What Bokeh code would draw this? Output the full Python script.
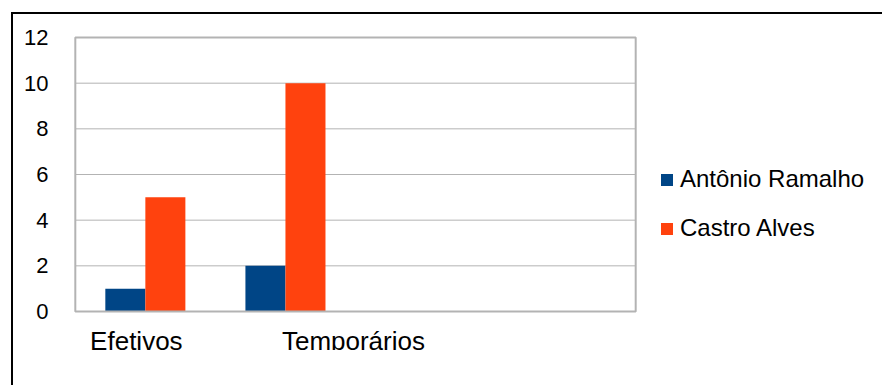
from bokeh.plotting import figure
from bokeh.models import FactorRange, Legend, LegendItem, Spacer, ColumnDataSource
from bokeh.layouts import column
from bokeh.transform import dodge
from bokeh.core.properties import value
from bokeh.embed import file_html
from bokeh.resources import INLINE

# Categories (two empty slots keep the right half of the plot area blank)
categories = ["Efetivos", "Temporários", " ", "  "]
antonio_ramalho = [1, 2]
castro_alves = [5, 10]
series_names = ["Antônio Ramalho", "Castro Alves"]
y_ticks = [0, 2, 4, 6, 8, 10, 12]

FONT = "Liberation Sans"
BLUE = "#004586"
ORANGE = "#ff420e"
GRID = "#b3b3b3"

n_cat = len(categories)
src = ColumnDataSource(dict(cat=categories[:2], a=antonio_ramalho, c=castro_alves))
# category labels sit just under the axis, nudged sideways in pixels
lbl = ColumnDataSource(dict(cat=categories[:2], y=[-0.63] * 2, dx=[-9, 68]))

p = figure(
    x_range=FactorRange(factors=categories, range_padding=0.02,
                        range_padding_units="absolute"),
    y_range=(-1.708, 12.088),
    frame_width=566, frame_height=315,
    output_backend="svg", toolbar_location=None,
    min_border_left=59, min_border_right=0,
    min_border_top=21, min_border_bottom=0,
    background_fill_color="white", border_fill_color="white",
)
p.outline_line_color = None
p.xaxis.visible = False
p.xgrid.grid_line_color = None
p.ygrid.grid_line_color = None

# horizontal gridlines across the plot area
p.segment(x0=[0] * (len(y_ticks) - 1), x1=[n_cat] * (len(y_ticks) - 1),
          y0=y_ticks[1:], y1=y_ticks[1:], line_color=GRID, line_width=1)

bw = 0.2857
r1 = p.vbar(x=dodge("cat", -bw / 2, range=p.x_range), top="a", width=bw,
            source=src, fill_color=BLUE, line_color=None)
r2 = p.vbar(x=dodge("cat", bw / 2, range=p.x_range), top="c", width=bw,
            source=src, fill_color=ORANGE, line_color=None)

# plot-area box (its bottom edge doubles as the category axis line)
p.quad(left=[0], right=[n_cat], bottom=[y_ticks[0]], top=[y_ticks[-1]],
       fill_color=None, line_color=GRID, line_width=2)

p.text(x="cat", y="y", text="cat", x_offset="dx", source=lbl,
       text_font=value(FONT), text_font_size="26px", text_color="black",
       text_align="center", text_baseline="top")

p.yaxis.ticker = y_ticks
p.yaxis.axis_line_color = None
p.yaxis.major_tick_line_color = None
p.yaxis.minor_tick_line_color = None
p.yaxis.major_label_standoff = 18
p.yaxis.major_label_text_font = FONT
p.yaxis.major_label_text_font_size = "22px"
p.yaxis.major_label_text_color = "black"

legend = Legend(
    items=[LegendItem(label=series_names[0], renderers=[r1]),
           LegendItem(label=series_names[1], renderers=[r2])],
    location=(21, 108),
    glyph_width=15, glyph_height=15,
    label_standoff=6, spacing=21, padding=0, margin=0,
    border_line_color=None, background_fill_alpha=0,
    label_text_font=FONT, label_text_font_size="24px",
    label_text_color="black",
)
p.add_layout(legend, "right")

layout = column(
    p, Spacer(width=869, height=35),
    styles={"border-left": "2px solid #000", "border-top": "2px solid #000",
            "margin-left": "11px", "margin-top": "12px"},
)

open("out.html", "w").write(file_html(layout, INLINE))
